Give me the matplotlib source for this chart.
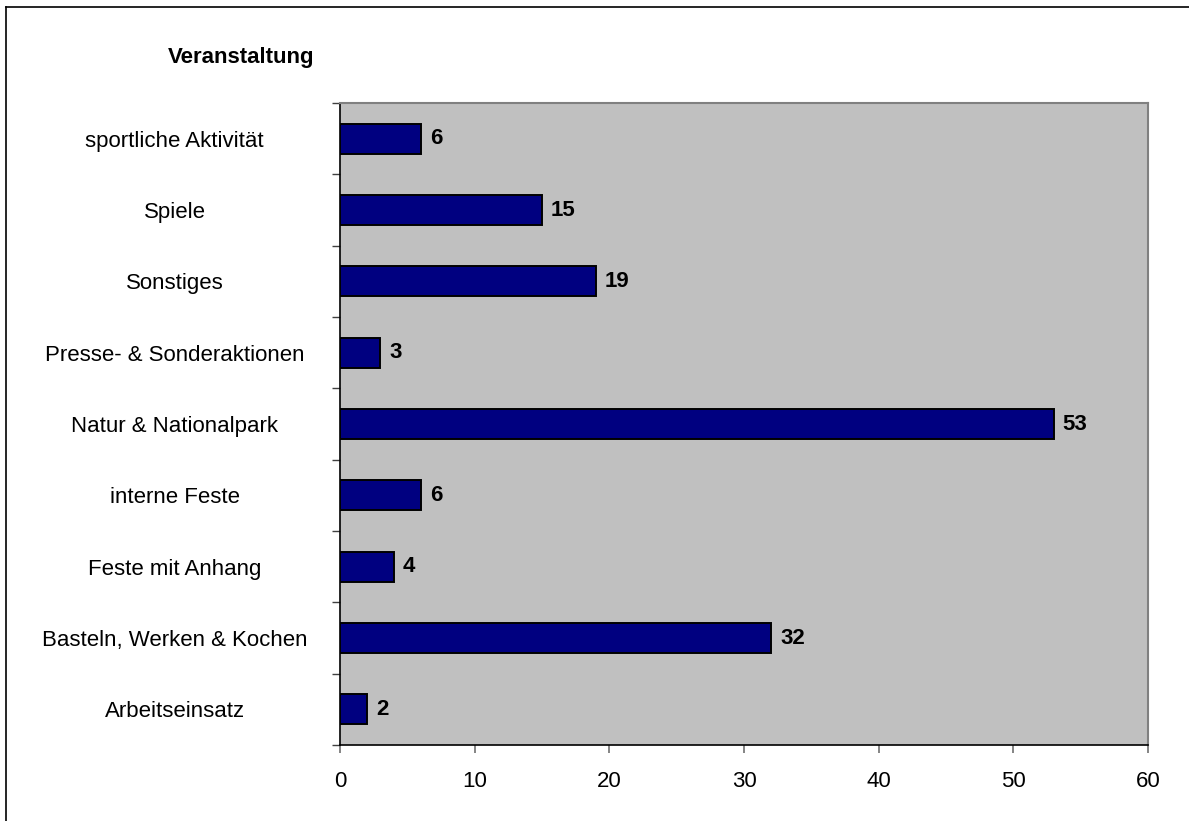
import numpy as np
import matplotlib
matplotlib.use("Agg")
import matplotlib.pyplot as plt
from matplotlib.lines import Line2D

plt.rcParams["font.family"] = ["Liberation Sans", "DejaVu Sans"]

categories = [
    "Arbeitseinsatz",
    "Basteln, Werken & Kochen",
    "Feste mit Anhang",
    "interne Feste",
    "Natur & Nationalpark",
    "Presse- & Sonderaktionen",
    "Sonstiges",
    "Spiele",
    "sportliche Aktivität",
]
counts = [2, 32, 4, 6, 53, 3, 19, 15, 6]
x_ticks = [0, 10, 20, 30, 40, 50, 60]

W, H = 1189, 821
FS = 16

fig = plt.figure(figsize=(W / 100, H / 100), dpi=100)
ax = fig.add_axes([340 / W, 1 - 745 / H, (1148 - 340) / W, (745 - 103) / H])

y = np.arange(len(categories))
ax.barh(y, counts, height=0.42, color="#000080", edgecolor="black", linewidth=1.4, zorder=3)

ax.set_facecolor("#C0C0C0")
ax.set_xlim(0, 60)
ax.set_ylim(-0.5, len(categories) - 0.5)

for side in ("top", "right"):
    ax.spines[side].set_color("#808080")
    ax.spines[side].set_linewidth(1.5)
for side in ("left", "bottom"):
    ax.spines[side].set_color("black")
    ax.spines[side].set_linewidth(1.2)

# category labels centred in the left margin, tick marks between bars
ax.set_yticks(y)
ax.set_yticklabels(categories, fontsize=FS, ha="center")
ax.tick_params(axis="y", which="major", length=0, pad=119)
ax.set_yticks(np.arange(-0.5, len(categories)), minor=True)
ax.tick_params(axis="y", which="minor", length=6, width=1, color="#404040", direction="out")

ax.set_xticks(x_ticks)
ax.set_xticklabels([str(t) for t in x_ticks], fontsize=FS)
ax.tick_params(axis="x", length=6, width=1.2, color="#707070", pad=13)

for yi, c in zip(y, counts):
    ax.annotate(str(c), (c, yi), xytext=(6.5, 0), textcoords="offset points",
                va="center", ha="left", fontsize=FS, fontweight="bold")

fig.text(168 / W, 1 - 57 / H, "Veranstaltung", fontsize=FS, fontweight="bold",
         ha="left", va="center")

# outer frame (only left and top edges fall inside the canvas)
fig.add_artist(Line2D([5.5 / W, 5.5 / W], [0, 1 - 7.5 / H], color="black", lw=1.2,
                      transform=fig.transFigure))
fig.add_artist(Line2D([5.5 / W, 1], [1 - 7.5 / H, 1 - 7.5 / H], color="black", lw=1.2,
                      transform=fig.transFigure))

fig.savefig("out.png", dpi=100)
